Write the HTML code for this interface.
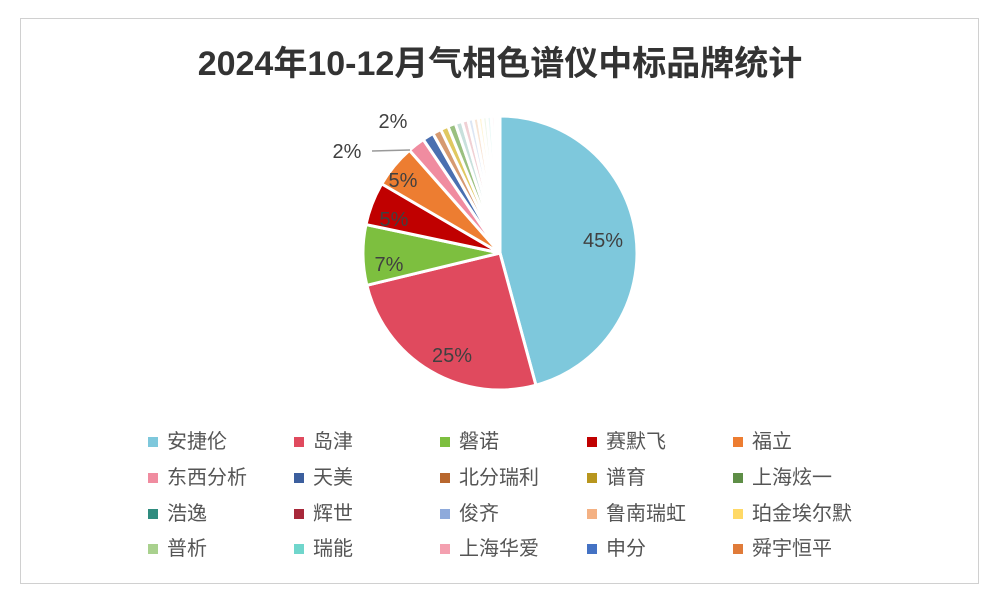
<!DOCTYPE html>
<html><head><meta charset="utf-8"><style>
body{margin:0;background:#fff;width:1000px;height:603px;overflow:hidden;font-family:"Liberation Sans","Noto Sans CJK SC",sans-serif}
.frame{position:absolute;left:20px;top:18px;width:957px;height:564px;border:1px solid #d0d0d0}
.title{position:absolute;left:0;width:1000px;top:36px;text-align:center;font-size:34px;font-weight:bold;color:#333}
.lg{position:absolute;font-size:20px;color:#555;line-height:24px}
.lg i{display:inline-block;width:10px;height:10px;margin-right:9px;vertical-align:1px}
</style></head><body>
<div class="frame"></div>
<div class="title">2024年10-12月气相色谱仪中标品牌统计</div>
<svg id="pie" width="1000" height="603" style="position:absolute;left:0;top:0"></svg>
<div id="legend"></div>
<script>
var d=[["安捷伦",45,"#7ec8dc"],["岛津",25,"#e04a5e"],["磐诺",7,"#7dbf3f"],["赛默飞",5,"#c00000"],["福立",5,"#ed7d31"],["东西分析",2,"#f08ca0"],["天美",1.3,"#4a6fb0"],["北分瑞利",1,"#d69a70"],["谱育",0.9,"#e0c860"],["上海炫一",0.9,"#9ac080"],["浩逸",0.8,"#c8e0dc"],["辉世",0.7,"#f0d0d4"],["俊齐",0.6,"#dde6f4"],["鲁南瑞虹",0.6,"#f8e4d4"],["珀金埃尔默",0.5,"#fff4d4"],["普析",0.5,"#eef6e8"],["瑞能",0.5,"#e8f8f6"],["上海华爱",0.4,"#fbeef0"],["申分",0.3,"#e8eef8"],["舜宇恒平",0.3,"#fbeee4"]];
var legCols=["#7ec8dc","#e04a5e","#7dbf3f","#c00000","#ed7d31","#f08ca0","#3c5f9e","#b8672e","#b8961e","#5e8e46","#2f8c7f","#a8283a","#8eaadb","#f4b183","#ffd966","#a9d18e","#70d6cc","#f4a0b0","#4472c4","#e07b39"];
var tot=d.reduce((s,x)=>s+x[1],0),cx=500,cy=253,r=137,a=0,h="";
d.forEach(function(x){var a2=a+x[1]/tot*2*Math.PI;
var x1=cx+r*Math.sin(a),y1=cy-r*Math.cos(a),x2=cx+r*Math.sin(a2),y2=cy-r*Math.cos(a2);
h+='<path d="M'+cx+','+cy+'L'+x1+','+y1+'A'+r+','+r+' 0 '+(a2-a>Math.PI?1:0)+' 1 '+x2+','+y2+'Z" fill="'+x[2]+'" stroke="#fff" stroke-width="3"/>';a=a2;});
h+='<line x1="372" y1="151" x2="410" y2="150" stroke="#999" stroke-width="1.5"/>';
var L=[["45%",603,247],["25%",452,362],["7%",389,271],["5%",394,226],["5%",403,187],["2%",347,158],["2%",393,128]];
L.forEach(function(l){h+='<text x="'+l[1]+'" y="'+l[2]+'" text-anchor="middle" font-size="20" fill="#404040" font-family="Liberation Sans,sans-serif">'+l[0]+'</text>';});
document.getElementById("pie").innerHTML=h;
var g="",xs=[148,294,440,587,733],ys=[430,466,502,537];
d.forEach(function(x,i){g+='<div class="lg" style="left:'+xs[i%5]+'px;top:'+ys[Math.floor(i/5)]+'px"><i style="background:'+legCols[i]+'"></i>'+x[0]+'</div>';});
document.getElementById("legend").innerHTML=g;
</script>
</body></html>
